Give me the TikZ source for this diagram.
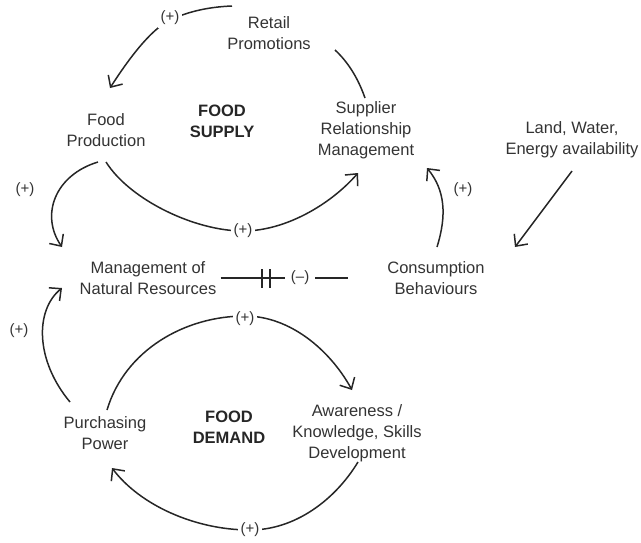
\documentclass[tikz,border=0pt]{standalone}
\usepackage{fontspec}
\setmainfont{Liberation Sans}
\usetikzlibrary{arrows.meta}
\begin{document}
\begin{tikzpicture}[x=1pt,y=-1pt,
  txt/.style={align=center, inner sep=0pt, text=black!80, font=\fontsize{16.5}{21}\selectfont},
  ttl/.style={align=center, inner sep=0pt, text=black!85, font=\fontsize{16.5}{21}\selectfont\bfseries},
  lbl/.style={fill=white, inner sep=3pt, text=black!80, font=\fontsize{15}{17}\selectfont},
  link/.style={draw=black!85, line width=1.5pt},
  arr/.style={link, -{Straight Barb[length=9pt,width=17pt,line width=1.5pt]}}
]
\useasboundingbox (0,0) rectangle (641,542);

% nodes
\node[txt] (rp)  at (269,33)  {Retail\\Promotions};
\node[txt] (fp)  at (106,130) {Food\\Production};
\node[ttl] (fs)  at (222,121) {FOOD\\SUPPLY};
\node[txt] (srm) at (366,130) {Supplier\\Relationship\\Management};
\node[txt] (lwe) at (572,140) {Land, Water,\\Energy availability};
\node[txt] (mnr) at (148,278) {Management of\\Natural Resources};
\node[txt] (cb)  at (436,278) {Consumption\\Behaviours};
\node[txt] (pp)  at (105,433) {Purchasing\\Power};
\node[ttl] (fd)  at (229,427) {FOOD\\DEMAND};
\node[txt] (aw)  at (357,433) {Awareness /\\Knowledge, Skills\\Development};

% end points
\coordinate (rpw) at (232,6);
\coordinate (fpn) at (110,88);
\coordinate (rpe) at (335,50);
\coordinate (srmn) at (365,98);
\coordinate (fps1) at (106,162);
\coordinate (srms1) at (358,173);
\coordinate (fps2) at (98,162);
\coordinate (mnrn) at (62,247);
\coordinate (cbn) at (437,247);
\coordinate (srms2) at (427,168);
\coordinate (lwes) at (572,171);
\coordinate (lwet) at (515,247);
\coordinate (ppn1) at (107,410);
\coordinate (awn) at (352,390);
\coordinate (ppn2) at (70,402);
\coordinate (mnrs) at (62,288);
\coordinate (aws) at (358,462);
\coordinate (ppe) at (112,468);

% supply loop
\draw[arr] (rpw) .. controls (205,7) and (185,13) .. (170,20)
  node[lbl, yshift=2pt] {(+)}
  .. controls (150,30) and (128,60) .. (fpn);
\draw[link] (rpe) .. controls (348,62) and (358,78) .. (srmn);
\draw[arr] (fps1) .. controls (130,200) and (195,231) .. (243,231)
  node[lbl] {(+)}
  .. controls (285,231) and (330,205) .. (srms1);

% side links
\draw[arr] (fps2) .. controls (55,175) and (40,215) .. (mnrn);
\node[lbl, fill=none] (l4) at (25,190) {(+)};
\draw[arr] (cbn) .. controls (447,215) and (445,190) .. (srms2);
\node[lbl, fill=none] (l5) at (463,190) {(+)};
\draw[arr] (lwes) -- (lwet);

% delay link
\draw[link, line width=1.8pt, shorten <=4pt, shorten >=39pt] (mnr.east |- 0,278) -- (cb.west |- 0,278)
  node[lbl, inner xsep=6pt, pos=0.49] {(–)};
\draw[link] (262,269) -- (262,288);
\draw[link] (270,269) -- (270,288);

% demand loop
\draw[arr] (ppn1) .. controls (125,350) and (185,316) .. (245,316)
  node[lbl, yshift=-3pt] {(+)}
  .. controls (290,316) and (330,350) .. (awn);
\draw[arr] (ppn2) .. controls (35,360) and (35,310) .. (mnrs);
\node[lbl, fill=none] (l9) at (19,331) {(+)};
\draw[arr] (aws) .. controls (335,500) and (295,530) .. (250,530)
  node[lbl] {(+)}
  .. controls (195,530) and (140,505) .. (ppe);
\end{tikzpicture}
\end{document}
